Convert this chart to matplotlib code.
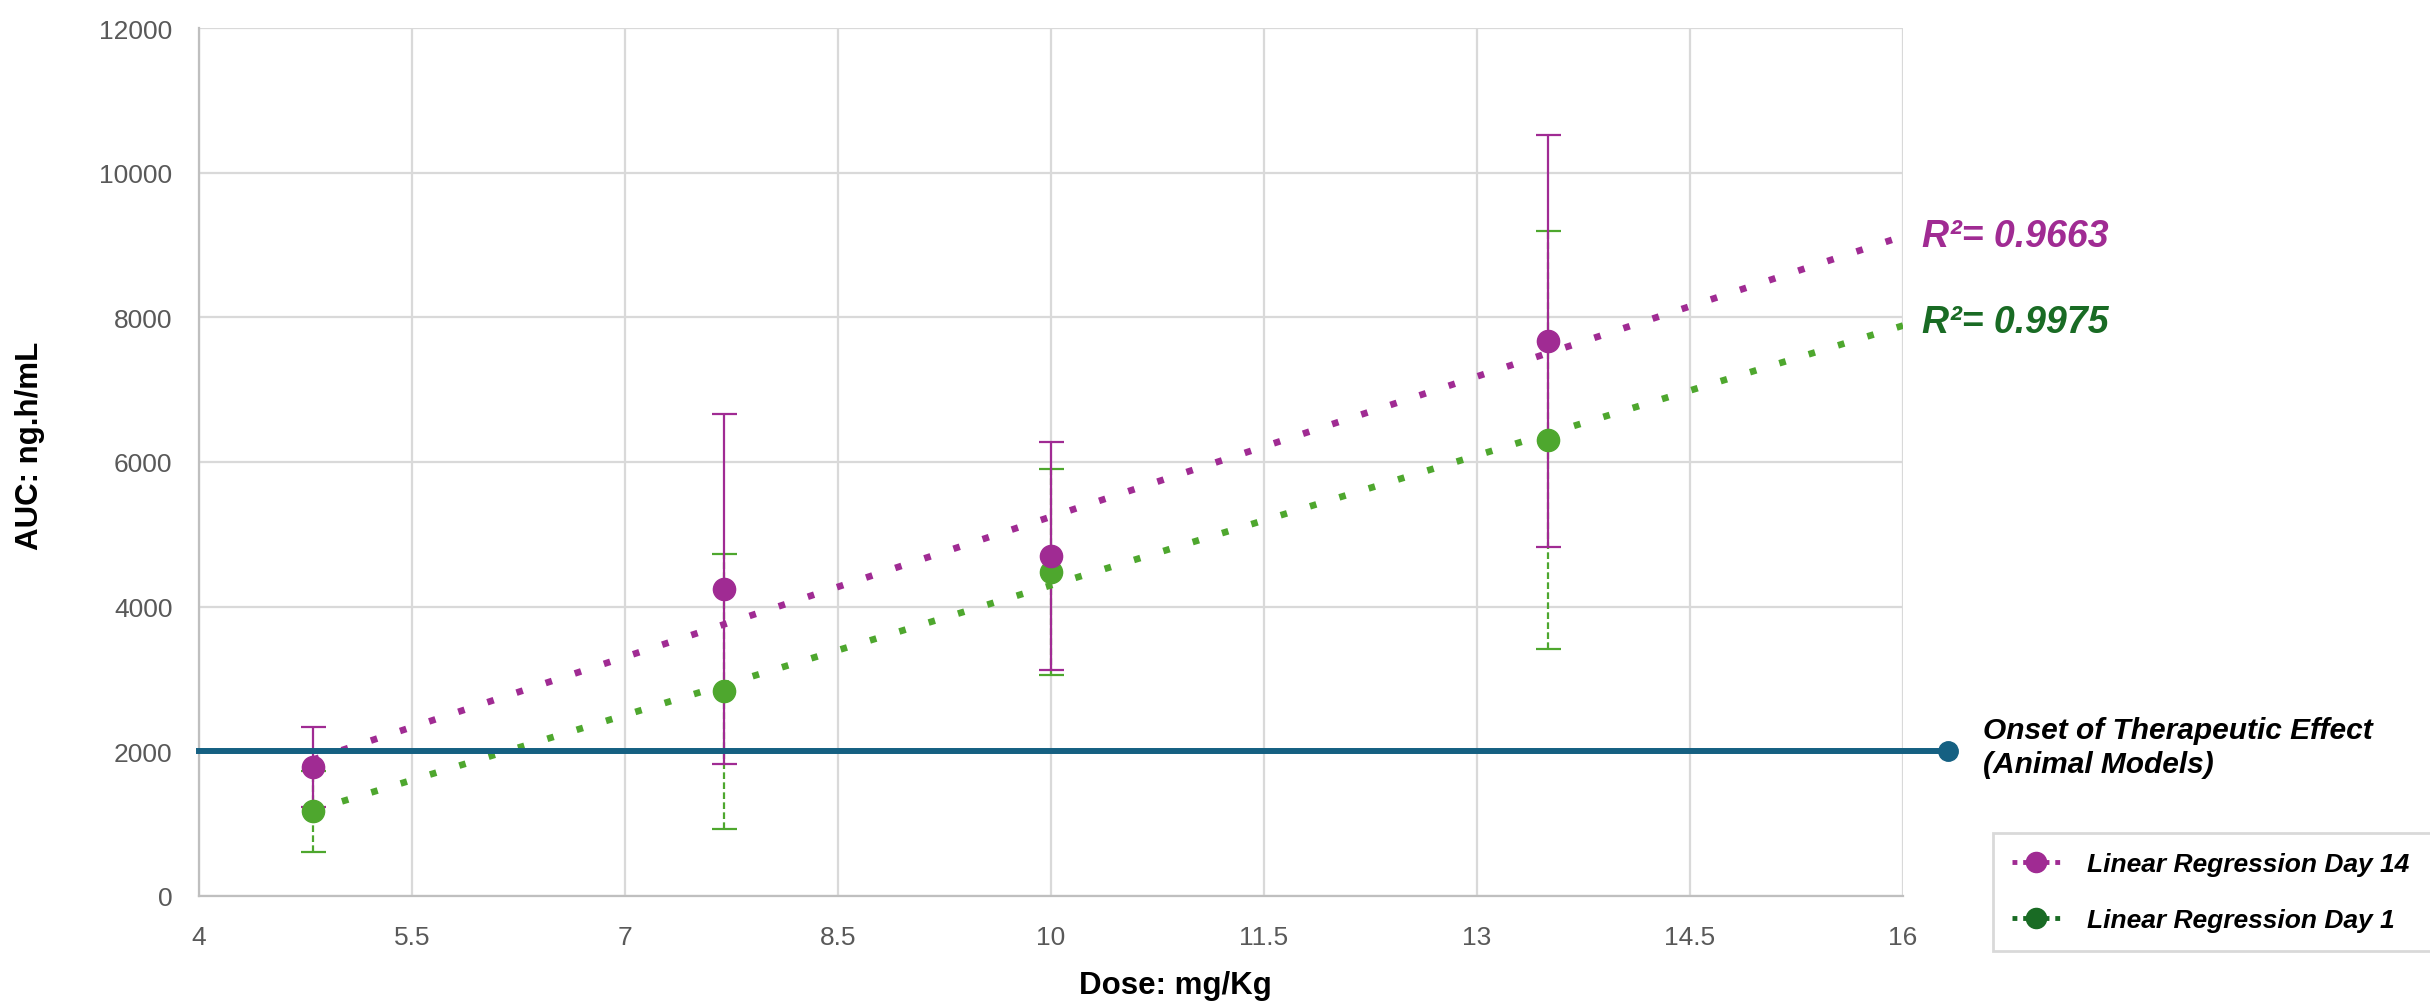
import matplotlib
matplotlib.use('Agg')
import matplotlib.pyplot as plt
from matplotlib.lines import Line2D
import numpy as np

plt.rcParams['font.family'] = ['Liberation Sans', 'DejaVu Sans']

# dose (mg/Kg) and AUC (ng.h/mL)
dose = [4.8, 7.7, 10.0, 13.5]
auc_day14 = [1780, 4240, 4700, 7670]
err_day14 = [550, 2420, 1570, 2850]
auc_day1 = [1170, 2830, 4480, 6310]
err_day1 = [560, 1900, 1420, 2890]

onset_auc = 2000
onset_x = [4, 16.32]
r2_labels = ['R²= 0.9663', 'R²= 0.9975']

PURPLE = '#A02B93'
GREEN = '#4EA72E'
DKGREEN = '#196B24'
BLUE = '#156082'

fig = plt.figure(figsize=(24.3, 10.03), dpi=100)
ax = fig.add_axes([199 / 2430, 106 / 1003, 1704 / 2430, 868 / 1003])

# error bars (green dashed under purple solid)
eb1 = ax.errorbar(dose, auc_day1, yerr=err_day1, fmt='none', ecolor=GREEN, elinewidth=1.6,
                  capsize=9, capthick=1.6, zorder=2)
for c in eb1[2]:
    c.set_linestyle((0, (3, 1.5)))
ax.errorbar(dose, auc_day14, yerr=err_day14, fmt='none', ecolor=PURPLE, elinewidth=1.6,
            capsize=9, capthick=1.6, zorder=3)

ax.plot(dose, auc_day1, 'o', color=GREEN, markersize=16, zorder=4)
ax.plot(dose, auc_day14, 'o', color=PURPLE, markersize=16, zorder=5)

# linear trendlines, forecast forward to 16
xt = np.array([dose[0], 16])
for yv, col in [(auc_day14, PURPLE), (auc_day1, GREEN)]:
    k, b = np.polyfit(dose, yv, 1)
    ax.plot(xt, k * xt + b, color=col, linewidth=4.8, linestyle=(0, (1, 3.6)),
            dash_capstyle='butt', zorder=6)

# onset of therapeutic effect line
ax.plot(onset_x, [onset_auc, onset_auc], color=BLUE, linewidth=4.3, marker='o',
        markersize=14, markevery=[1], clip_on=False, zorder=7)

ax.set_xlim(4, 16)
ax.set_ylim(0, 12000)
ax.set_xticks(np.arange(4, 16.01, 1.5))
ax.set_xticklabels(['4', '5.5', '7', '8.5', '10', '11.5', '13', '14.5', '16'])
ax.set_yticks(range(0, 12001, 2000))
ax.tick_params(length=0, labelsize=19, labelcolor='#595959')
ax.tick_params(axis='y', pad=19)
ax.tick_params(axis='x', pad=21)
ax.grid(True, color='#D9D9D9', linewidth=1.6)
ax.set_axisbelow(True)
for s in ['top', 'right']:
    ax.spines[s].set_visible(False)
for s in ['left', 'bottom']:
    ax.spines[s].set_color('#BFBFBF')
    ax.spines[s].set_linewidth(1.6)

ax.set_xlabel('Dose: mg/Kg', fontsize=22.5, fontweight='bold')
ax.set_ylabel('AUC: ng.h/mL', fontsize=22.5, fontweight='bold')
ax.xaxis.set_label_coords(0.573, -0.085)
ax.yaxis.set_label_coords(-0.0905, 0.52)

fig.text(1922 / 2430, 1 - 237 / 1003, r2_labels[0], color=PURPLE, fontsize=27,
         fontweight='bold', fontstyle='italic', va='center', ha='left')
fig.text(1922 / 2430, 1 - 323 / 1003, r2_labels[1], color=DKGREEN, fontsize=27,
         fontweight='bold', fontstyle='italic', va='center', ha='left')
fig.text(1983 / 2430, 1 - 748 / 1003, 'Onset of Therapeutic Effect\n(Animal Models)',
         fontsize=21.5, fontweight='bold', fontstyle='italic', va='center', ha='left',
         linespacing=1.3)

handles = [
    Line2D([], [], color=PURPLE, linewidth=3.5, linestyle=(0, (1, 1.2)), marker='o',
           markersize=14.5, markerfacecolor=PURPLE, markeredgecolor=PURPLE),
    Line2D([], [], color=DKGREEN, linewidth=3.5, linestyle=(0, (1, 1.2)), marker='o',
           markersize=14.5, markerfacecolor=DKGREEN, markeredgecolor=DKGREEN),
]
leg = fig.legend(handles, ['Linear Regression Day 14', 'Linear Regression Day 1'],
                 loc='upper left', bbox_to_anchor=(1980 / 2430, 1 - 831 / 1003, 470 / 2430, 0.01),
                 mode='expand', fancybox=False, edgecolor='#D9D9D9', framealpha=1,
                 prop={'size': 19, 'weight': 'bold', 'style': 'italic'},
                 handlelength=1.85, handletextpad=1.0, labelspacing=1.23, borderpad=0.71)
leg.get_frame().set_linewidth(2)

fig.savefig('out.png', dpi=100)
